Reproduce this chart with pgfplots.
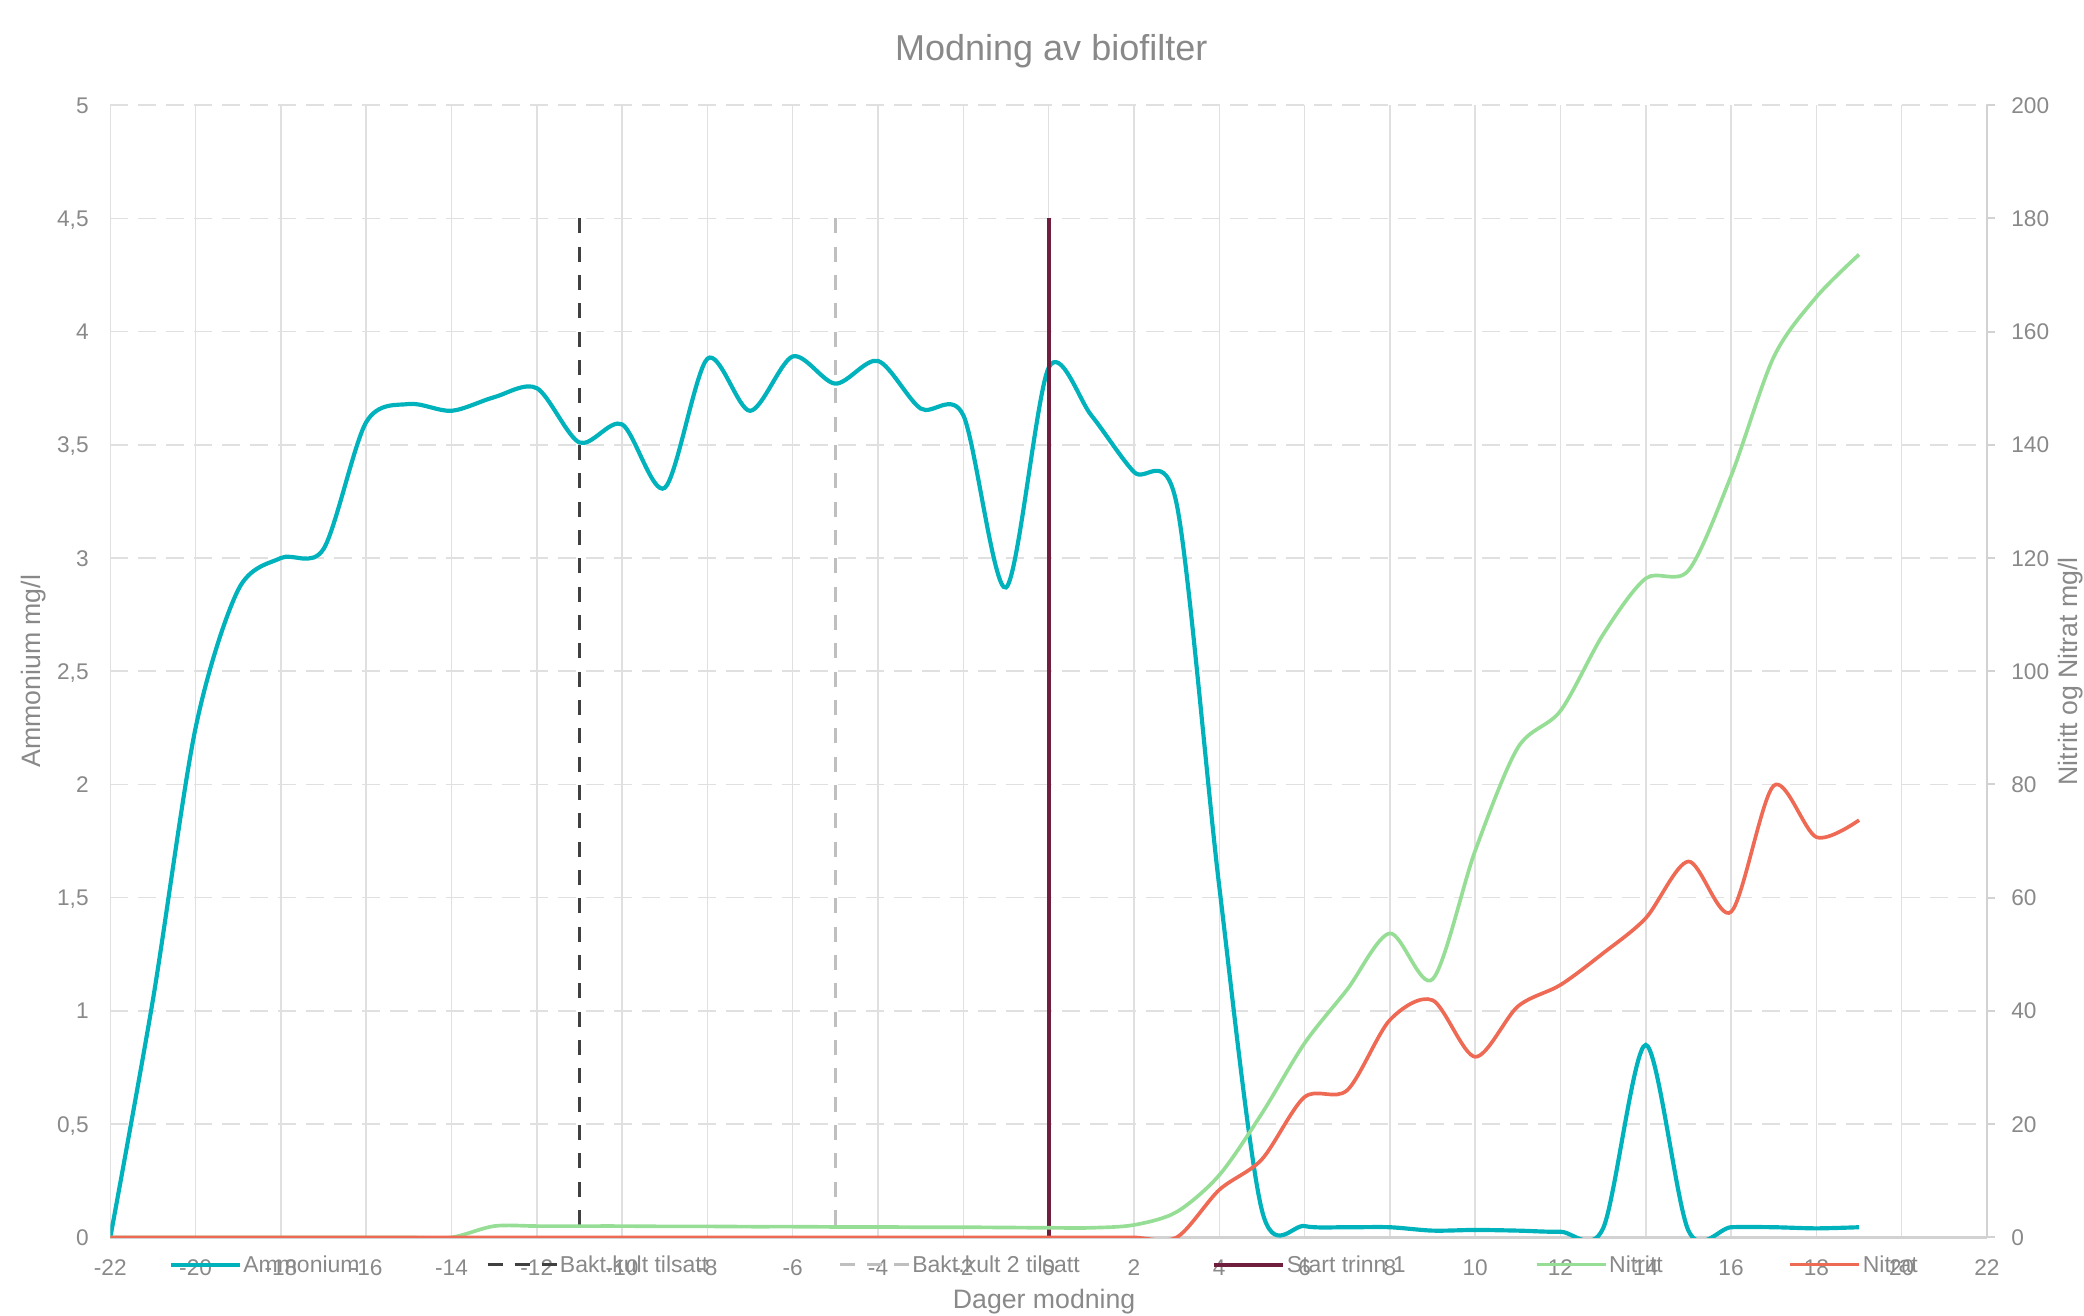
\documentclass[border=0pt]{standalone}
\usepackage{pgfplots}
\pgfplotsset{compat=1.18}
\usepackage{fontspec}
\setmainfont{Liberation Sans}
\definecolor{ammcol}{RGB}{0,178,187}
\definecolor{nitcol}{RGB}{150,222,150}
\definecolor{natcol}{RGB}{238,106,84}
\definecolor{maroon}{RGB}{112,30,62}
\definecolor{darkdash}{RGB}{64,64,64}
\definecolor{lightdash}{RGB}{191,191,191}
\definecolor{gridgray}{RGB}{224,224,224}
\definecolor{axisgray}{RGB}{210,210,210}
\definecolor{axisdark}{RGB}{185,185,185}
\definecolor{textgray}{RGB}{137,137,137}
\begin{document}
\begin{tikzpicture}
\useasboundingbox (0pt,0pt) rectangle (625.2pt,394.5pt);
\begin{axis}[
  at={(33.09pt,23.28pt)}, anchor=south west, scale only axis,
  width=563pt, height=339.7pt,
  xmin=-22, xmax=22, ymin=0, ymax=5,
  xtick={-22,-20,-18,-16,-14,-12,-10,-8,-6,-4,-2,0,2,4,6,8,10,12,14,16,18,20,22},
  xticklabels={-22,-20,-18,-16,-14,-12,-10,-8,-6,-4,-2,0,2,4,6,8,10,12,14,16,18,20,22},
  ytick={0,0.5,1,1.5,2,2.5,3,3.5,4,4.5,5},
  yticklabels={0,{0,5},1,{1,5},2,{2,5},3,{3,5},4,{4,5},5},
  extra x ticks={0}, extra x tick labels={},
  extra x tick style={grid style={axisdark, line width=0.5pt, solid}},
  axis x line*=bottom, axis y line*=left,
  x axis line style={draw=axisgray, line width=0.7pt, -},
  y axis line style={draw=none, -},
  major tick length=0pt,
  xmajorgrids, ymajorgrids,
  x grid style={gridgray, line width=0.45pt},
  y grid style={gridgray, line width=0.45pt, dash pattern=on 5.4pt off 3pt},
  tick label style={font=\fontsize{6.8}{8}\selectfont, text=textgray},
  xticklabel style={anchor=base, yshift=-11.5pt, inner sep=0pt},
  yticklabel style={anchor=base east, xshift=-6.3pt, yshift=-2.4pt, inner sep=0pt},
  ylabel={Ammonium mg/l},
  every axis y label/.style={at={(axis description cs:-0.041,0.5)}, rotate=90, anchor=center, font=\fontsize{8}{9}\selectfont, text=textgray},
  xlabel={Dager modning},
  every axis x label/.style={at={(axis description cs:0.4976,-0.0632)}, anchor=base, font=\fontsize{8}{9}\selectfont, text=textgray},
  title={Modning av biofilter},
  every axis title/.style={at={(axis description cs:0.5014,1.0398)}, anchor=base, font=\fontsize{10.8}{12}\selectfont, text=textgray},
]
\addplot[ammcol, line width=1.25pt, smooth] coordinates {
(-22,0) (-21,1.05) (-20,2.25) (-19,2.86) (-18,3.0) (-17,3.04) (-16,3.60) (-15,3.68)
(-14,3.65) (-13,3.71) (-12,3.75) (-11,3.51) (-10,3.59) (-9,3.31) (-8,3.88) (-7,3.65)
(-6,3.89) (-5,3.77) (-4,3.87) (-3,3.66) (-2,3.63) (-1,2.87) (0,3.84) (1,3.63)
(2,3.38) (3,3.24) (4,1.55) (5,0.12) (6,0.05) (7,0.045) (8,0.045) (9,0.03)
(10,0.033) (11,0.03) (12,0.025) (13,0.04) (14,0.85) (15,0.03) (16,0.045) (17,0.045)
(18,0.04) (19,0.045)};
\addplot[darkdash, line width=1pt, dash pattern=on 4.5pt off 4pt] coordinates {(-11,4.5) (-11,0)};
\addplot[lightdash, line width=1pt, dash pattern=on 4.5pt off 4pt] coordinates {(-5,4.5) (-5,0)};
\addplot[maroon, line width=1.2pt] coordinates {(0,4.5) (0,0)};
\end{axis}
\begin{axis}[
  at={(33.09pt,23.28pt)}, anchor=south west, scale only axis,
  width=563pt, height=339.7pt,
  xmin=-22, xmax=22, ymin=0, ymax=200,
  axis x line=none, axis y line*=right,
  y axis line style={draw=axisgray, line width=0.7pt, -},
  ytick={0,20,40,60,80,100,120,140,160,180,200},
  yticklabels={0,20,40,60,80,100,120,140,160,180,200},
  tick align=outside, major tick length=2.4pt,
  major tick style={axisgray, line width=0.6pt},
  tick label style={font=\fontsize{6.8}{8}\selectfont, text=textgray},
  yticklabel style={anchor=base west, xshift=4.7pt, yshift=-2.4pt, inner sep=0pt},
  ylabel={Nitritt og Nitrat mg/l},
  every axis y label/.style={at={(axis description cs:1.0443,0.5)}, rotate=90, anchor=center, font=\fontsize{8}{9}\selectfont, text=textgray},
  legend columns=6,
  legend cell align=left,
  legend image code/.code={\draw[#1] (0pt,0.6pt) -- (20.7pt,0.6pt);},
  legend style={at={(axis description cs:0.0311,-0.0258)}, anchor=west, draw=none, fill=none,
    inner sep=0pt, outer sep=0pt, font=\fontsize{6.9}{8}\selectfont, text=textgray,
    nodes={inner sep=0pt},
    /tikz/every odd column/.style={column sep=0.5pt},
    /tikz/every even column/.style={column sep=0pt}},
]
\addlegendimage{ammcol, line width=1.2pt}
\addlegendentry{\makebox[72.8pt][l]{Ammonium}}
\addlegendimage{darkdash, line width=1pt, dash pattern=on 4.5pt off 3.6pt}
\addlegendentry{\makebox[83.5pt][l]{Bakt.kult tilsatt}}
\addlegendimage{lightdash, line width=1pt, dash pattern=on 4.5pt off 3.6pt}
\addlegendentry{\makebox[89.95pt][l]{Bakt.kult 2 tilsatt}}
\addlegendimage{maroon, line width=1.2pt}
\addlegendentry{\makebox[74.4pt][l]{Start trinn 1}}
\addplot[nitcol, line width=1.1pt, smooth] coordinates {
(-22,0) (-21,0) (-20,0) (-19,0) (-18,0) (-17,0) (-16,0) (-15,0) (-14,0)
(-13,2.0) (-12,2.0) (-11,2.0) (-10,2.0) (-9,1.95) (-8,1.95) (-7,1.9) (-6,1.9)
(-5,1.85) (-4,1.85) (-3,1.8) (-2,1.8) (-1,1.75) (0,1.7) (1,1.7) (2,2.2)
(3,4.5) (4,11.0) (5,21.9) (6,34.3) (7,43.8) (8,53.7) (9,45.6) (10,68.3)
(11,86.5) (12,93.0) (13,106.5) (14,116.4) (15,117.8) (16,134.5) (17,155.5) (18,166.1) (19,173.6)};
\addlegendentry{\makebox[53.8pt][l]{Nitritt}}
\addplot[natcol, line width=1.1pt, smooth] coordinates {
(-22,0) (-21,0) (-20,0) (-19,0) (-18,0) (-17,0) (-16,0) (-15,0) (-14,0)
(-13,0) (-12,0) (-11,0) (-10,0) (-9,0) (-8,0) (-7,0) (-6,0)
(-5,0) (-4,0) (-3,0) (-2,0) (-1,0) (0,0) (1,0) (2,0)
(3,0) (4,8.4) (5,13.8) (6,24.8) (7,26.0) (8,38.4) (9,41.9) (10,31.9)
(11,40.8) (12,44.6) (13,50.2) (14,56.4) (15,66.4) (16,57.5) (17,79.8) (18,70.7) (19,73.7)};
\addlegendentry{Nitrat}
\end{axis}
\end{tikzpicture}
\end{document}
